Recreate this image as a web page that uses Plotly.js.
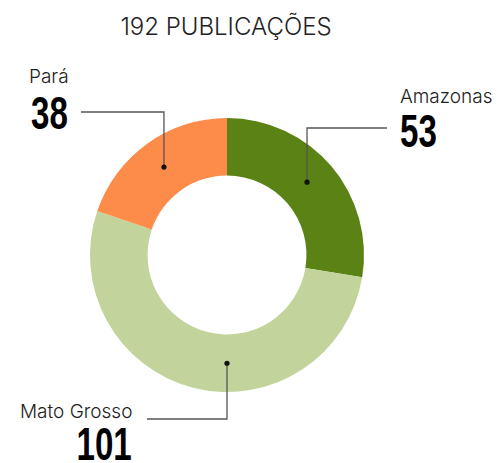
<!DOCTYPE html>
<html><head><meta charset="utf-8">
<script src="https://cdn.plot.ly/plotly-3.0.1.min.js"></script>
<style>html,body{margin:0;padding:0;background:#fff}#chart{width:497px;height:463px}</style>
</head><body><div id="chart"></div>
<script>
const labels = ["Amazonas", "Mato Grosso", "Pará"];
const values = [53, 101, 38];
const colors = ["#5b8214", "#c2d49b", "#fd8b4a"];
const titleText = "192 PUBLICAÇÕES";

const W = 497, H = 463;
const cx = 227, cy = 255, R = 137, hole = 0.58;
const px = x => x / W, py = y => 1 - y / H;

const total = values.reduce((a, b) => a + b, 0);
let cum = 0;
const mid = values.map(v => { const m = (cum + v / 2) / total * 360; cum += v; return m; });
// anchor angles (deg clockwise from top); Mato Grosso anchored at bottom
const anchorAngle = [mid[0] - 2, 180, mid[2]];
const rMid = R * (1 + hole) / 2;
const dots = anchorAngle.map(a => [cx + rMid * Math.sin(a * Math.PI / 180), cy - rMid * Math.cos(a * Math.PI / 180)]);

// label placement (pixels)
const place = [
  {nx: 398, ny: 96, vx: 398, vy: 131, xa: "left", lx: 387, ly: 128},
  {nx: 134, ny: 411, vx: 134, vy: 444, xa: "right", lx: 147, ly: 419},
  {nx: 27, ny: 77, vx: 29, vy: 113, xa: "left", lx: 81, ly: 112}
];
const NUM_SCALE = 0.72;

const shapes = [], annotations = [], numAnn = {};
labels.forEach((lab, i) => {
  const p = place[i], d = dots[i];
  shapes.push({type: "path", xref: "paper", yref: "paper",
    path: `M ${px(p.lx)} ${py(p.ly)} L ${px(d[0])} ${py(p.ly)} L ${px(d[0])} ${py(d[1])}`,
    line: {color: "#555", width: 1.3}});
  const rd = 2.6;
  shapes.push({type: "circle", xref: "paper", yref: "paper",
    x0: px(d[0] - rd), x1: px(d[0] + rd), y0: py(d[1] + rd), y1: py(d[1] - rd),
    fillcolor: "#111", line: {width: 0}});
  annotations.push({text: lab, xref: "paper", yref: "paper", x: px(p.nx), y: py(p.ny),
    xanchor: p.xa, yanchor: "middle", showarrow: false,
    font: {family: "Inter, Roboto, sans-serif", size: 19, color: "#222", weight: 300}});
  numAnn[annotations.length] = p.xa;
  annotations.push({text: "<b>" + values[i] + "</b>", xref: "paper", yref: "paper", x: px(p.vx), y: py(p.vy),
    xanchor: p.xa, yanchor: "middle", showarrow: false,
    font: {family: "'Liberation Sans', Arial, sans-serif", size: 46, color: "#000"}});
});

const data = [{
  type: "pie", labels: labels, values: values, sort: false, direction: "clockwise", rotation: 0,
  hole: hole, textinfo: "none", hoverinfo: "label+value",
  marker: {colors: colors, line: {width: 0}},
  domain: {x: [px(cx - R), px(cx + R)], y: [py(cy + R), py(cy - R)]}
}];

const layout = {
  width: W, height: H, margin: {l: 0, r: 0, t: 0, b: 0},
  paper_bgcolor: "#fff", showlegend: false,
  title: {text: titleText, x: px(226), xanchor: "center", y: py(27), yanchor: "middle", yref: "paper",
    font: {family: "Inter, Roboto, sans-serif", size: 24, color: "#222", weight: 300}},
  shapes: shapes, annotations: annotations
};
const gd = document.getElementById("chart");
Plotly.newPlot(gd, data, layout, {displayModeBar: false, staticPlot: true}).then(() => {
  // condense the big numbers horizontally (the original uses a condensed display face)
  gd.querySelectorAll("g.annotation").forEach(g => {
    const idx = +g.getAttribute("data-index");
    if (!(idx in numAnn)) return;
    const t = g.querySelector("text");
    if (!t) return;
    const bb = t.getBBox();
    const ax = numAnn[idx] === "left" ? bb.x : bb.x + bb.width;
    const prev = t.getAttribute("transform") || "";
    t.setAttribute("transform", `${prev} translate(${ax},0) scale(${NUM_SCALE},1) translate(${-ax},0)`);
  });
});
</script></body></html>
